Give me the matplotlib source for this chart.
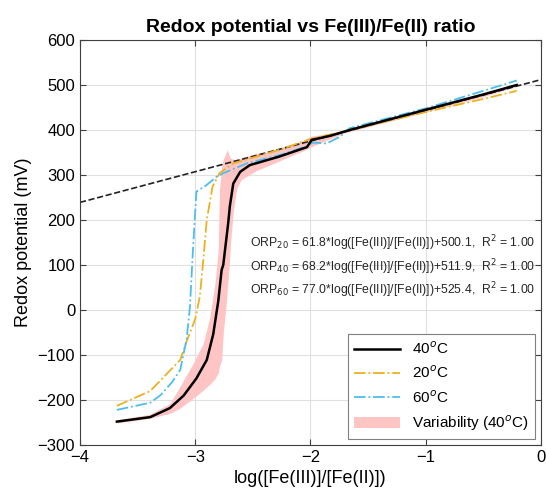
import numpy as np
import matplotlib
matplotlib.use("Agg")
import matplotlib.pyplot as plt

plt.rcParams['font.family'] = ['Liberation Sans', 'DejaVu Sans']

# 40 C (mean)
x40 = [-3.68, -3.39, -3.22, -3.10, -2.99, -2.90, -2.844, -2.80, -2.771, -2.757, -2.714,
       -2.70, -2.67, -2.61, -2.526, -2.27, -2.03, -1.99, -1.83, -1.66, -1.0, -0.5, -0.21]
y40 = [-248, -238, -218, -190, -152, -111, -54, 20, 89, 100, 193,
       230, 281, 307, 322, 341, 362, 378, 387, 400, 445, 479, 500]

# 20 C
x20 = [-3.68, -3.39, -3.30, -3.13, -3.075, -3.0, -2.96, -2.93, -2.90, -2.85, -2.79,
       -2.67, -2.55, -2.27, -2.0, -1.7, -1.0, -0.5, -0.21]
y20 = [-213, -180, -156, -111, -70, -20, 30, 111, 200, 274, 304,
       326, 335, 356, 380, 397, 440, 469, 487]

# 60 C
x60 = [-3.68, -3.39, -3.30, -3.20, -3.13, -3.075, -3.046, -3.02, -2.99, -2.90, -2.815,
       -2.757, -2.55, -2.27, -2.03, -1.98, -1.86, -1.745, -1.66, -1.0, -0.5, -0.21]
y60 = [-222, -206, -189, -160, -133, -65, 7, 133, 263, 278, 296,
       304, 326, 344, 364, 372, 370, 385, 404, 448, 487, 510]

# variability band of the 40 C runs
band_x = [-3.68, -3.40, -3.22, -3.133, -3.017, -2.93, -2.873, -2.829, -2.80, -2.79, -2.771,
          -2.757, -2.728, -2.722, -2.714, -2.70, -2.693, -2.67, -2.64, -2.60, -2.467,
          -2.3, -2.05, -2.0, -1.85, -1.7, -1.0, -0.5, -0.21]
band_hi = [-244, -232, -208, -170, -118, -74, -15, 59, 133, 267, 318,
           335, 352, 357, 350, 340, 337, 335, 333, 338, 348,
           355, 378, 386, 392, 400, 447, 481, 502]
band_lo = [-251, -241, -230, -218, -196, -178, -165, -153, -140, -125, -111,
           -52, 22, 45, 70, 120, 150, 220, 270, 290, 310,
           328, 355, 362, 378, 394, 440, 474, 497]

# linear fit (40 C)
fit_slope = 68.2
fit_intercept = 511.9

equations = [
    r'ORP$_{20}$ = 61.8*log([Fe(III)]/[Fe(II)])+500.1,  R$^2$ = 1.00',
    r'ORP$_{40}$ = 68.2*log([Fe(III)]/[Fe(II)])+511.9,  R$^2$ = 1.00',
    r'ORP$_{60}$ = 77.0*log([Fe(III)]/[Fe(II)])+525.4,  R$^2$ = 1.00',
]
eq_y = [149, 96, 44]

fig = plt.figure(figsize=(5.46, 5.03), dpi=100)
ax = fig.add_axes([0.1465, 0.1153, 0.8443, 0.8052])

xf = np.array([-4.0, 0.0])
ax.plot(xf, fit_slope * xf + fit_intercept, '--', color='#222222', lw=1.2, zorder=2)

band = ax.fill_between(band_x, band_lo, band_hi, color='#ffc4c4', lw=0,
                       label='Variability (40$^o$C)', zorder=1)
l40, = ax.plot(x40, y40, '-', color='black', lw=1.8, label='40$^o$C', zorder=4)
l20, = ax.plot(x20, y20, '-.', color='#EDB120', lw=1.3, label='20$^o$C', zorder=3)
l60, = ax.plot(x60, y60, '-.', color='#4DBEEE', lw=1.3, label='60$^o$C', zorder=3)

for txt, yy in zip(equations, eq_y):
    ax.text(-2.525, yy, txt, fontsize=8.8, va='center', ha='left', color='#262626')

ax.set_xlim(-4, 0)
ax.set_ylim(-300, 600)
ax.set_xticks([-4, -3, -2, -1, 0])
ax.set_yticks(range(-300, 601, 100))
ax.grid(True, color='#e0e0e0', lw=0.8)
ax.set_axisbelow(True)
ax.tick_params(direction='in', top=True, right=True, labelsize=12, length=4,
               color='#404040')
for s in ax.spines.values():
    s.set_color('#404040')
    s.set_linewidth(0.8)

ax.set_xlabel('log([Fe(III)]/[Fe(II)])', fontsize=13)
ax.set_ylabel('Redox potential (mV)', fontsize=13)
ax.set_title('Redox potential vs Fe(III)/Fe(II) ratio', fontsize=14, fontweight='bold')

leg = ax.legend(handles=[l40, l20, l60, band], loc='lower right', fontsize=11,
                fancybox=False, framealpha=1, edgecolor='#808080', handlelength=3.0,
                borderaxespad=0.4)
leg.get_frame().set_linewidth(0.8)

fig.savefig('out.png', dpi=100)
